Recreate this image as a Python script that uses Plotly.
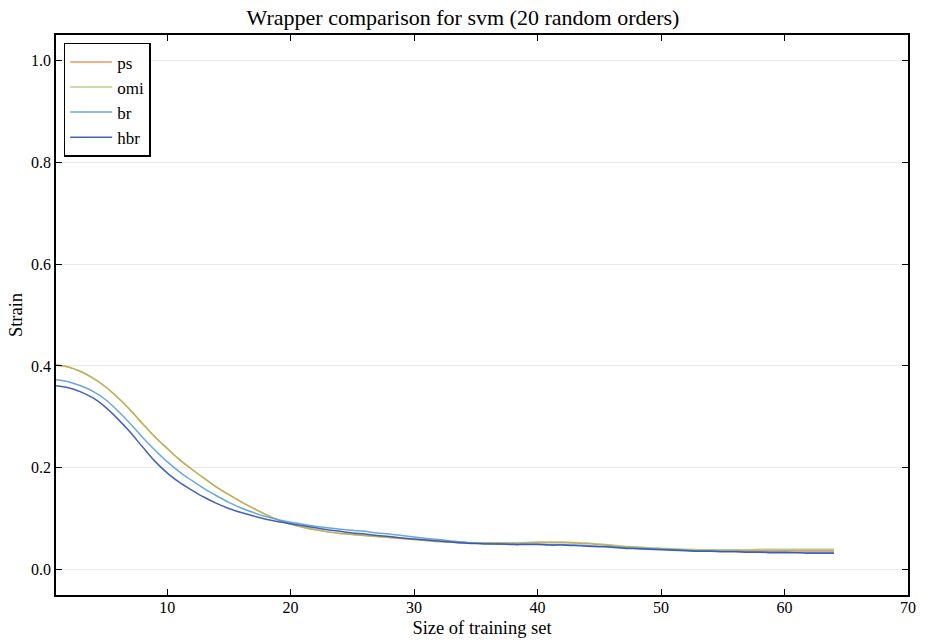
import plotly.graph_objects as go

x = list(range(1, 65))

ps = [0.402,0.398,0.389,0.376,0.359,0.338,0.314,0.287,0.261,0.238,
      0.216,0.197,0.179,0.162,0.147,0.133,0.120,0.108,0.097,0.089,
      0.083,0.078,0.074,0.071,0.069,0.067,0.065,0.063,0.061,0.059,
      0.057,0.055,0.054,0.053,0.052,0.052,0.052,0.052,0.052,0.053,
      0.053,0.053,0.052,0.051,0.049,0.047,0.045,0.044,0.042,0.041,
      0.040,0.039,0.038,0.038,0.037,0.037,0.037,0.037,0.037,0.037,
      0.037,0.037,0.037,0.037]

omi = [0.402,0.398,0.389,0.376,0.359,0.338,0.314,0.287,0.261,0.238,
       0.216,0.197,0.179,0.162,0.147,0.133,0.120,0.108,0.097,0.089,
       0.083,0.078,0.074,0.071,0.069,0.067,0.065,0.063,0.061,0.059,
       0.057,0.055,0.054,0.053,0.052,0.052,0.052,0.052,0.053,0.054,
       0.054,0.054,0.053,0.052,0.050,0.048,0.046,0.045,0.043,0.042,
       0.041,0.040,0.039,0.039,0.039,0.039,0.039,0.040,0.040,0.040,
       0.040,0.040,0.040,0.040]

br = [0.373,0.369,0.361,0.350,0.334,0.312,0.287,0.260,0.235,0.212,
      0.192,0.175,0.159,0.145,0.132,0.121,0.112,0.104,0.098,0.093,
      0.089,0.085,0.082,0.079,0.077,0.075,0.072,0.070,0.067,0.064,
      0.061,0.059,0.056,0.054,0.052,0.051,0.050,0.050,0.050,0.050,
      0.049,0.049,0.048,0.047,0.046,0.045,0.043,0.042,0.041,0.040,
      0.039,0.038,0.037,0.037,0.036,0.036,0.035,0.035,0.035,0.035,
      0.034,0.034,0.034,0.034]

hbr = [0.361,0.357,0.349,0.337,0.319,0.296,0.270,0.241,0.213,0.190,
       0.171,0.156,0.142,0.130,0.120,0.112,0.105,0.099,0.094,0.090,
       0.086,0.082,0.078,0.075,0.072,0.070,0.067,0.065,0.062,0.060,
       0.058,0.056,0.054,0.052,0.051,0.050,0.050,0.049,0.049,0.049,
       0.048,0.048,0.047,0.046,0.045,0.044,0.042,0.041,0.040,0.039,
       0.038,0.037,0.036,0.036,0.035,0.035,0.034,0.034,0.033,0.033,
       0.033,0.032,0.032,0.032]

series = [("ps", ps, "rgba(238,125,45,0.8)"),
          ("omi", omi, "rgba(160,192,95,0.75)"),
          ("br", br, "rgba(80,150,215,0.85)"),
          ("hbr", hbr, "rgba(50,80,175,0.9)")]

FONT = "Liberation Serif"

fig = go.Figure()
for name, vals, col in series:
    fig.add_trace(go.Scatter(x=x, y=vals, name=name, mode="lines",
                             line=dict(color=col, width=1.5, shape="spline")))

axis_common = dict(showline=True, linecolor="black", linewidth=1.5, mirror="ticks",
                   ticks="inside", ticklen=6, tickcolor="black", tickwidth=1,
                   zeroline=False, automargin=False,
                   tickfont=dict(family=FONT, size=16, color="black"))

fig.update_layout(
    width=926, height=644,
    paper_bgcolor="white", plot_bgcolor="white",
    margin=dict(l=56, r=18, t=35, b=49),
    title=dict(text="Wrapper comparison for svm (20 random orders)",
               font=dict(family=FONT, size=22, color="black"),
               x=0.5, xanchor="center", y=0.9736, yanchor="middle"),
    xaxis=dict(range=[1, 70], tickvals=[10, 20, 30, 40, 50, 60, 70], showgrid=False,
               ticklabelstandoff=-3,
               title=dict(text="Size of training set", font=dict(family=FONT, size=18.5, color="black"),
                          standoff=6),
               **axis_common),
    yaxis=dict(range=[-0.05, 1.05], tickvals=[0.0, 0.2, 0.4, 0.6, 0.8, 1.0], tickformat=".1f",
               showgrid=True, gridcolor="#ebebeb", gridwidth=1,
               title=dict(text="Strain", font=dict(family=FONT, size=18.5, color="black"),
                          standoff=4),
               **axis_common),
    legend=dict(x=0.009, y=0.986, xanchor="left", yanchor="top",
                bgcolor="white", bordercolor="black", borderwidth=1.5,
                font=dict(family=FONT, size=17, color="black"),
                itemwidth=42),
    showlegend=True,
)

fig.write_html("out.html", config={"displayModeBar": False},
               post_script="document.body.style.margin='0';")
